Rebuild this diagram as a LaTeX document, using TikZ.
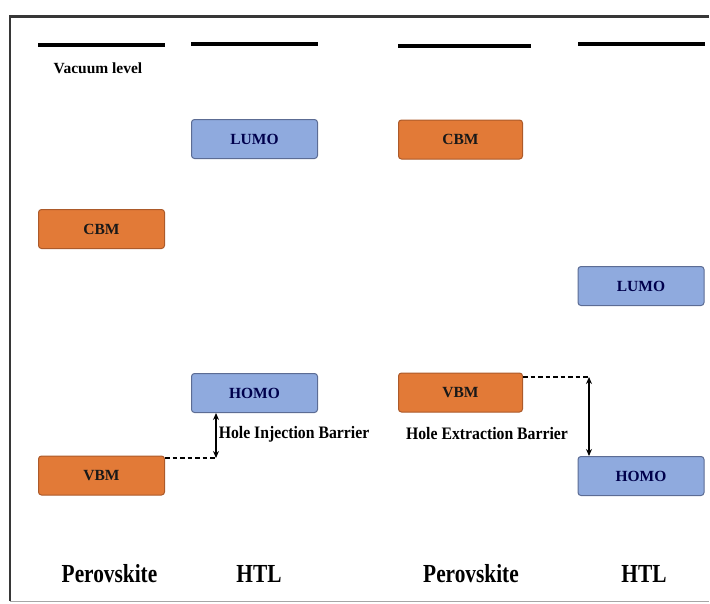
\documentclass[tikz,border=0pt]{standalone}
\usepackage{fontspec}
\setmainfont{Liberation Serif}
\usepackage{xcolor}
\usetikzlibrary{arrows.meta}
\definecolor{bandorange}{RGB}{226,122,55}
\definecolor{bandorangedk}{RGB}{172,90,42}
\definecolor{bandblue}{RGB}{143,170,222}
\definecolor{bandbluedk}{RGB}{92,108,148}
\definecolor{framegray}{RGB}{55,55,55}
\tikzset{
  bandbox/.style={draw,line width=1pt,rounded corners=3pt,minimum width=126pt,minimum height=39pt,
    inner sep=0pt,font=\bfseries\fontsize{15.5}{15.5}\selectfont},
  pvkbox/.style={bandbox,fill=bandorange,draw=bandorangedk,text=black!90},
  htlbox/.style={bandbox,fill=bandblue,draw=bandbluedk,text=blue!30!black},
  vacline/.style={line width=3.5pt},
  barrierdash/.style={line width=1.4pt,dash pattern=on 4.5pt off 3pt},
  barrierarrow/.style={line width=1.3pt,{Stealth[length=7pt,width=6pt]}-{Stealth[length=7pt,width=6pt]}},
  barrierlabel/.style={font=\bfseries\fontsize{17.5}{17.5}\selectfont,xscale=0.9,inner sep=0pt},
  layerlabel/.style={font=\bfseries\fontsize{26}{26}\selectfont,xscale=0.82,inner sep=0pt}
}
\begin{document}
\begin{tikzpicture}[x=1pt,y=-1pt]
\useasboundingbox (0,0) rectangle (710,603);
% frame
\draw[framegray,line width=2.8pt] (709,16.5) -- (10,16.5) -- (10,601);
\draw[gray!70,line width=1.5pt] (10,601.5) -- (709,601.5);
% vacuum levels
\foreach \xa/\xb/\y in {38/165/45, 191/318/44, 398/531/46, 578/705/44}
  \draw[vacline] (\xa,\y) -- (\xb,\y);
\node[font=\bfseries\fontsize{15.5}{15.5}\selectfont,inner sep=0pt] (vaclab) at (98,68) {Vacuum level};
% energy levels
\node[htlbox] (lumoA) at (254.5,139) {LUMO};
\node[pvkbox,minimum width=124pt] (cbmB) at (460.5,139.5) {CBM};
\node[pvkbox] (cbmA) at (101.5,229) {CBM};
\node[htlbox] (lumoB) at (641,286) {LUMO};
\node[htlbox] (homoA) at (254.5,393) {HOMO};
\node[pvkbox,minimum width=124pt] (vbmB) at (460.5,392.5) {VBM};
\node[pvkbox] (vbmA) at (101.5,475.5) {VBM};
\node[htlbox] (homoB) at (641,476) {HOMO};
% barriers
\coordinate (injA) at (216,458);
\draw[barrierdash] (vbmA.east |- injA) -- (injA);
\draw[barrierarrow] (injA) -- (homoA.south -| injA);
\node[barrierlabel] (injlab) at (294,434) {Hole Injection Barrier};
\coordinate (extB) at (589,377);
\draw[barrierdash] (vbmB.east |- extB) -- (extB);
\draw[barrierarrow] (extB) -- (homoB.north -| extB);
\node[barrierlabel] (extlab) at (487,434) {Hole Extraction Barrier};
% layer names
\foreach \x/\lab/\nm in {109.5/Perovskite/pvkA, 259/HTL/htlA, 471/Perovskite/pvkB, 644/HTL/htlB}
  \node[layerlabel] (\nm) at (\x,574) {\lab};
\end{tikzpicture}
\end{document}
